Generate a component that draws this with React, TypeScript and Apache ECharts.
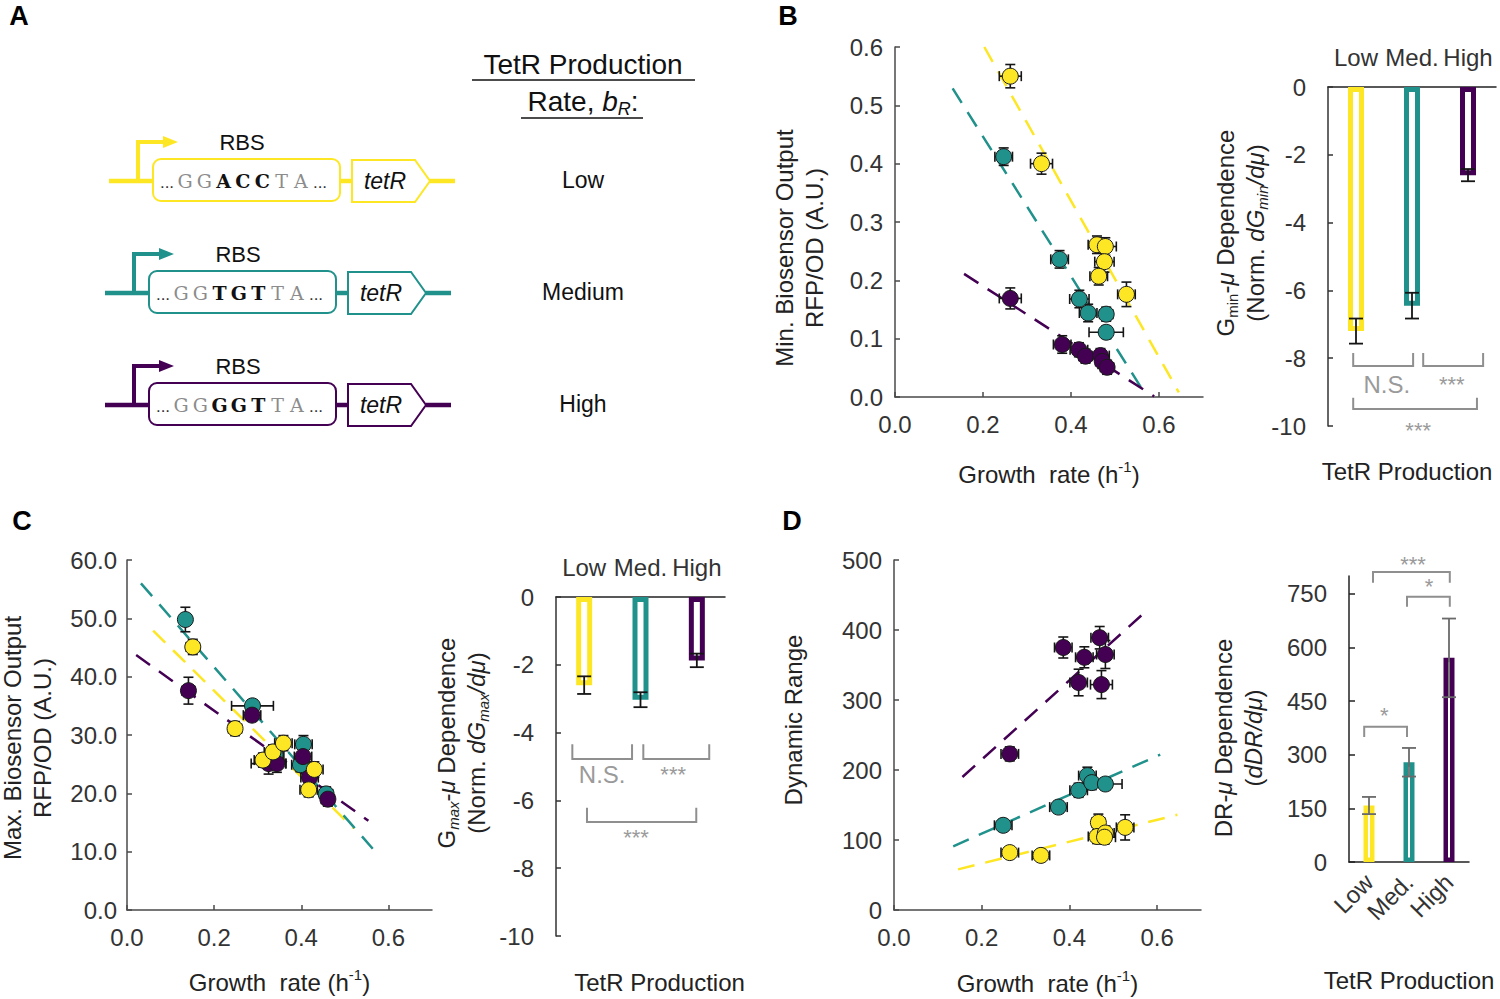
import React, { useEffect, useRef } from "react";
import * as echarts from "echarts";

const FONT = "Liberation Sans, Arial, sans-serif";
const LOW_C = "#FDE725";
const MED_C = "#21918C";
const HIGH_C = "#440154";
const LEVEL_COLORS = [LOW_C, MED_C, HIGH_C];
const AXIS_C = "#4a4a4a";
const LABEL_C = "#333333";
const SIG_C = "#8f8f8f";

// ---------- Panel A ----------
const rbsSequences = ["GGACCTA", "GGTGTTA", "GGGGTTA"];
const rateLabels = ["Low", "Medium", "High"];

// ---------- shared ----------
const tetrLevels = ["Low", "Med.", "High"];

// ---------- Panel B: min biosensor output  [growth, output, growthErr, outputErr] ----------
const minLow = [
  [0.262, 0.55, 0.025, 0.02], [0.333, 0.4, 0.025, 0.018], [0.459, 0.261, 0.02, 0.015],
  [0.478, 0.258, 0.025, 0.015], [0.476, 0.232, 0.022, 0.018], [0.463, 0.207, 0.02, 0.015],
  [0.526, 0.176, 0.02, 0.021],
];
const minMed = [
  [0.247, 0.412, 0.02, 0.015], [0.374, 0.236, 0.02, 0.015], [0.419, 0.168, 0.022, 0.015],
  [0.439, 0.144, 0.02, 0.015], [0.48, 0.142, 0.015, 0.012], [0.48, 0.111, 0.039, 0.01],
];
const minHigh = [
  [0.262, 0.169, 0.025, 0.018], [0.38, 0.09, 0.02, 0.015], [0.418, 0.081, 0.02, 0.012],
  [0.433, 0.07, 0.015, 0.012], [0.467, 0.071, 0.02, 0.012], [0.471, 0.061, 0.015, 0.012],
  [0.482, 0.051, 0.015, 0.012],
];
const minFitLow = [[0.203, 0.6], [0.645, 0.008]];
const minFitMed = [[0.131, 0.529], [0.562, 0.013]];
const minFitHigh = [[0.157, 0.211], [0.589, 0.001]];
const gminSlope = [-7.2, -6.45, -2.6];
const gminErr = [0.37, 0.38, 0.18];
// [fromPos, toPos, lineValue, tickValue, label, labelPos, labelValue]
const gminSig = [
  [-0.05, 1.02, -8.23, -7.85, "N.S.", 0.55, -8.79],
  [1.2, 2.27, -8.23, -7.85, "***", 1.71, -8.79],
  [-0.05, 2.16, -9.5, -9.17, "***", 1.11, -10.12],
];

// ---------- Panel C: max biosensor output ----------
const maxLow = [
  [0.151, 45.1, 0.015, 1.3], [0.248, 31.1, 0.015, 1.2], [0.312, 25.7, 0.02, 1.2],
  [0.335, 27.1, 0.02, 1.2], [0.359, 28.6, 0.02, 1.3], [0.43, 24.1, 0.02, 1.3],
  [0.417, 20.6, 0.02, 1.2],
];
const maxMed = [
  [0.134, 49.8, 0.012, 2.1], [0.288, 35.0, 0.048, 1.0], [0.405, 28.4, 0.02, 1.5],
  [0.398, 24.9, 0.02, 1.2], [0.457, 19.9, 0.015, 1.2], [0.34, 26.6, 0.02, 1.5],
];
const maxHigh = [
  [0.141, 37.6, 0.015, 2.3], [0.287, 33.4, 0.02, 1.0], [0.325, 25.1, 0.04, 1.8],
  [0.344, 25.1, 0.02, 1.5], [0.404, 26.3, 0.02, 1.5], [0.419, 22.7, 0.02, 1.5],
  [0.461, 19.0, 0.015, 1.2],
];
const maxFitLow = [[0.06, 47.9], [0.52, 14.0]];
const maxFitMed = [[0.032, 56.0], [0.564, 10.5]];
const maxFitHigh = [[0.021, 43.7], [0.554, 15.3]];
const gmaxSlope = [-2.6, -3.03, -1.87];
const gmaxErr = [0.26, 0.22, 0.2];
const gmaxSig = [
  [-0.21, 0.85, -4.78, -4.34, "N.S.", 0.32, -5.25],
  [1.05, 2.22, -4.78, -4.34, "***", 1.58, -5.25],
  [0.05, 1.99, -6.64, -6.22, "***", 0.92, -7.08],
];

// ---------- Panel D: dynamic range ----------
const drLow = [
  [0.264, 82, 0.02, 8], [0.335, 78, 0.02, 8], [0.466, 125, 0.015, 12],
  [0.463, 105, 0.02, 10], [0.482, 110, 0.02, 10], [0.48, 104, 0.025, 10],
  [0.527, 118, 0.02, 18],
];
const drMed = [
  [0.249, 121, 0.02, 8], [0.375, 147, 0.02, 8], [0.421, 171, 0.02, 10],
  [0.441, 192, 0.02, 12], [0.451, 182, 0.02, 10], [0.482, 180, 0.038, 8],
];
const drHigh = [
  [0.386, 375, 0.02, 15], [0.434, 361, 0.02, 15], [0.469, 389, 0.02, 16],
  [0.482, 365, 0.02, 20], [0.421, 325, 0.02, 19], [0.473, 322, 0.025, 20],
  [0.264, 223, 0.02, 10],
];
const drFitLow = [[0.146, 58], [0.646, 136]];
const drFitMed = [[0.135, 91], [0.607, 222]];
const drFitHigh = [[0.156, 190], [0.575, 427]];
const drSlope = [158, 279, 571];
const drErr = [24, 40, 110];
const drSig = [
  [0.1, 2.02, 811, 781, "***", 1.1, 831],
  [0.95, 2.02, 742, 714, "*", 1.5, 770],
  [-0.12, 0.95, 378, 350, "*", 0.38, 409],
];

// ---------- helpers ----------
const errorBarRender = (color: string, cap: number) => (params: any, api: any) => {
  const x = api.value(0), y = api.value(1), xe = api.value(2), ye = api.value(3);
  const l = api.coord([x - xe, y]);
  const r = api.coord([x + xe, y]);
  const t = api.coord([x, y + ye]);
  const b = api.coord([x, y - ye]);
  const style = { stroke: color, lineWidth: 1.6 };
  const ln = (x1: number, y1: number, x2: number, y2: number) => ({
    type: "line", shape: { x1, y1, x2, y2 }, style,
  });
  return {
    type: "group",
    children: [
      ln(l[0], l[1], r[0], r[1]),
      ln(l[0], l[1] - cap, l[0], l[1] + cap),
      ln(r[0], r[1] - cap, r[0], r[1] + cap),
      ln(t[0], t[1], b[0], b[1]),
      ln(t[0] - cap, t[1], t[0] + cap, t[1]),
      ln(b[0] - cap, b[1], b[0] + cap, b[1]),
    ],
  };
};

const groupSeries = (xi: number, yi: number, pts: number[][], color: string) => [
  {
    type: "custom",
    xAxisIndex: xi,
    yAxisIndex: yi,
    data: pts,
    renderItem: errorBarRender("#151515", 5),
    z: 3,
    silent: true,
  },
  {
    type: "scatter",
    xAxisIndex: xi,
    yAxisIndex: yi,
    data: pts.map((p) => [p[0], p[1]]),
    symbolSize: 16,
    itemStyle: { color, borderColor: "#1a1a1a", borderWidth: 1, opacity: 1 },
    z: 4,
    silent: true,
  },
];

const fitSeries = (xi: number, yi: number, pts: number[][], color: string) => ({
  type: "line",
  xAxisIndex: xi,
  yAxisIndex: yi,
  data: pts,
  symbol: "none",
  lineStyle: { color, width: 2.5, type: [17, 11] },
  z: 2,
  silent: true,
});

const barSeries = (xi: number, yi: number, vals: number[], bw: number, border: number) => ({
  type: "bar",
  xAxisIndex: xi,
  yAxisIndex: yi,
  barWidth: bw,
  data: vals.map((v, i) => ({
    value: v,
    itemStyle: { color: "#ffffff", borderColor: LEVEL_COLORS[i], borderWidth: border },
  })),
  z: 2,
  silent: true,
});

const barErrSeries = (xi: number, yi: number, vals: number[], errs: number[], color: string, cap: number) => ({
  type: "custom",
  xAxisIndex: xi,
  yAxisIndex: yi,
  data: vals.map((v, i) => [i, v]),
  renderItem: (params: any, api: any) => {
    const i = params.dataIndex;
    const t = api.coord([i, vals[i] + errs[i]]);
    const b = api.coord([i, vals[i] - errs[i]]);
    const style = { stroke: color, lineWidth: 1.8 };
    return {
      type: "group",
      children: [
        { type: "line", shape: { x1: t[0], y1: t[1], x2: b[0], y2: b[1] }, style },
        { type: "line", shape: { x1: t[0] - cap, y1: t[1], x2: t[0] + cap, y2: t[1] }, style },
        { type: "line", shape: { x1: b[0] - cap, y1: b[1], x2: b[0] + cap, y2: b[1] }, style },
      ],
    };
  },
  z: 5,
  silent: true,
});

const sigSeries = (xi: number, yi: number, sig: any[]) => ({
  type: "custom",
  xAxisIndex: xi,
  yAxisIndex: yi,
  data: sig.map((s) => [0, s[2]]),
  clip: false,
  renderItem: (params: any, api: any) => {
    const s = sig[params.dataIndex];
    const bw = api.size([1, 0])[0];
    const base = api.coord([0, s[2]]);
    const yl = base[1];
    const yt = api.coord([0, s[3]])[1];
    const ylab = api.coord([0, s[6]])[1];
    const xa = base[0] + s[0] * bw;
    const xb = base[0] + s[1] * bw;
    const xl = base[0] + s[5] * bw;
    return {
      type: "group",
      children: [
        {
          type: "polyline",
          shape: { points: [[xa, yt], [xa, yl], [xb, yl], [xb, yt]] },
          style: { stroke: SIG_C, lineWidth: 2, fill: "none" },
        },
        {
          type: "text",
          x: xl,
          y: ylab,
          style: {
            text: s[4],
            fill: "#9a9a9a",
            fontSize: s[4] === "N.S." ? 24 : 22,
            fontFamily: FONT,
            align: "center",
            verticalAlign: "middle",
          },
        },
      ],
    };
  },
  z: 6,
  silent: true,
});

const growthName = {
  name: "Growth  rate (h{sup|-1})",
  nameLocation: "middle",
  nameTextStyle: {
    fontSize: 24,
    fontFamily: FONT,
    color: "#222",
    lineHeight: 30,
    rich: { sup: { fontSize: 15, fontFamily: FONT, color: "#222", verticalAlign: "top", lineHeight: 16 } },
  },
};

const scatterX = (gridIndex: number, nameGap: number) => ({
  type: "value",
  gridIndex,
  min: 0,
  max: 0.7,
  interval: 0.2,
  ...growthName,
  nameGap,
  axisLine: { onZero: false, lineStyle: { color: AXIS_C, width: 1.5 } },
  axisTick: { inside: true, length: 5, lineStyle: { color: AXIS_C, width: 1.5 }, customValues: [0, 0.2, 0.4, 0.6] },
  axisLabel: {
    fontSize: 24, fontFamily: FONT, color: LABEL_C, margin: 15, showMaxLabel: false,
    formatter: (v: number) => v.toFixed(1),
  },
  splitLine: { show: false },
});

const scatterY = (gridIndex: number, max: number, interval: number, digits: number, margin: number) => ({
  type: "value",
  gridIndex,
  min: 0,
  max,
  interval,
  axisLine: { show: true, onZero: false, lineStyle: { color: AXIS_C, width: 1.5 } },
  axisTick: { show: true, inside: true, length: 5, lineStyle: { color: AXIS_C, width: 1.5 } },
  axisLabel: {
    fontSize: 24, fontFamily: FONT, color: LABEL_C, margin,
    formatter: (v: number) => v.toFixed(digits),
  },
  splitLine: { show: false },
});

const barTopX = (gridIndex: number) => ({
  type: "category",
  gridIndex,
  data: tetrLevels,
  position: "top",
  axisLine: { onZero: false, lineStyle: { color: "#222", width: 1.5 } },
  axisTick: { show: false },
  axisLabel: { fontSize: 24, fontFamily: FONT, color: LABEL_C, margin: 18, interval: 0 },
});

const barNameX = (gridIndex: number, nameGap: number, shift: number) => ({
  type: "category",
  gridIndex,
  data: tetrLevels,
  position: "bottom",
  name: "TetR Production",
  nameLocation: "middle",
  nameGap,
  nameTextStyle: {
    fontSize: 24, fontFamily: FONT, color: "#222",
    padding: shift >= 0 ? [0, 0, 0, shift] : [0, -shift, 0, 0],
  },
  axisLine: { show: false, onZero: false },
  axisTick: { show: false },
  axisLabel: { show: false },
});

const barNegY = (gridIndex: number) => ({
  type: "value",
  gridIndex,
  min: -10,
  max: 0,
  interval: 2,
  axisLine: { show: true, lineStyle: { color: "#333", width: 1.5 } },
  axisTick: { show: true, inside: true, length: 5, lineStyle: { color: "#333", width: 1.5 } },
  axisLabel: { fontSize: 24, fontFamily: FONT, color: LABEL_C, margin: 22 },
  splitLine: { show: false },
});

// ---------- graphic (panel A + titles) ----------
const rowY = [181, 293, 405];
const rowRectX = [153, 149, 149];

function buildGraphic() {
  const g: any[] = [];
  const txt = (x: number, y: number, text: string, extra: any = {}) => ({
    type: "text",
    x,
    y,
    silent: true,
    style: {
      text,
      fontSize: 22,
      fontFamily: FONT,
      fill: "#111",
      align: "center",
      verticalAlign: "middle",
      ...extra,
    },
  });
  // panel letters
  g.push(txt(19, 16, "A", { fontSize: 27, fontWeight: "bold", fill: "#000" }));
  g.push(txt(788, 16, "B", { fontSize: 27, fontWeight: "bold", fill: "#000" }));
  g.push(txt(22, 521, "C", { fontSize: 27, fontWeight: "bold", fill: "#000" }));
  g.push(txt(792, 521, "D", { fontSize: 27, fontWeight: "bold", fill: "#000" }));

  // panel A title
  g.push(txt(583, 64, "TetR Production", { fontSize: 28 }));
  g.push(
    txt(583, 101, "Rate, {it|b}{sub|R}:", {
      fontSize: 28,
      lineHeight: 34,
      rich: {
        it: { fontSize: 28, fontStyle: "italic", fontFamily: FONT, fill: "#111", lineHeight: 34 },
        sub: { fontSize: 18, fontStyle: "italic", fontFamily: FONT, fill: "#111", verticalAlign: "bottom", lineHeight: 22 },
      },
    })
  );
  g.push({ type: "line", silent: true, shape: { x1: 472, y1: 80, x2: 695, y2: 80 }, style: { stroke: "#111", lineWidth: 1.6 } });
  g.push({ type: "line", silent: true, shape: { x1: 521, y1: 118, x2: 643, y2: 118 }, style: { stroke: "#111", lineWidth: 1.6 } });

  rbsSequences.forEach((seq, r) => {
    const color = LEVEL_COLORS[r];
    const by = rowY[r];
    const rx = rowRectX[r];
    const thick = { stroke: color, lineWidth: 4.5 };
    g.push({ type: "line", silent: true, shape: { x1: rx - 44, y1: by, x2: rx, y2: by }, style: thick });
    g.push({ type: "line", silent: true, shape: { x1: rx + 187, y1: by, x2: rx + 199, y2: by }, style: thick });
    g.push({ type: "line", silent: true, shape: { x1: rx + 277, y1: by, x2: rx + 302, y2: by }, style: thick });
    g.push({
      type: "polyline", silent: true,
      shape: { points: [[rx - 15, by], [rx - 15, by - 39], [rx + 12, by - 39]] },
      style: { stroke: color, lineWidth: 4, fill: "none" },
    });
    g.push({
      type: "polygon", silent: true,
      shape: { points: [[rx + 10, by - 45], [rx + 25, by - 39], [rx + 10, by - 33]] },
      style: { fill: color },
    });
    g.push({
      type: "rect", silent: true,
      shape: { x: rx, y: by - 22, width: 187, height: 42, r: 8 },
      style: { fill: "#fff", stroke: color, lineWidth: 2 },
    });
    g.push({
      type: "polygon", silent: true,
      shape: {
        points: [[rx + 199, by - 21], [rx + 262, by - 21], [rx + 277, by], [rx + 262, by + 21], [rx + 199, by + 21]],
      },
      style: { fill: "#fff", stroke: color, lineWidth: 2 },
    });
    g.push(txt(rx + 89, by - 39, "RBS", { fontSize: 22 }));
    g.push(txt(rx + 232, by, "tetR", { fontSize: 23, fontStyle: "italic" }));
    g.push(txt(rx + 14, by + 1, "...", { fontSize: 17, fill: "#333" }));
    g.push(txt(rx + 167, by + 1, "...", { fontSize: 17, fill: "#333" }));
    seq.split("").forEach((ch, j) => {
      const bold = j >= 2 && j <= 4;
      g.push(
        txt(rx + 32 + j * 19.3, by, ch, {
          fontFamily: "DejaVu Serif",
          fontSize: 19,
          fontWeight: bold ? "bold" : "normal",
          fill: bold ? "#111" : "#8c8c8c",
        })
      );
    });
    g.push(txt(583, by - 1, rateLabels[r], { fontSize: 23 }));
  });

  // rotated axis titles
  const vt = (x: number, y: number, text: string, rich?: any) => ({
    type: "text",
    x,
    y,
    rotation: Math.PI / 2,
    silent: true,
    style: {
      text,
      fontSize: 24,
      fontFamily: FONT,
      fill: "#222",
      align: "center",
      verticalAlign: "middle",
      lineHeight: 30,
      rich,
    },
  });
  const richDefs = {
    it: { fontSize: 24, fontStyle: "italic", fontFamily: FONT, fill: "#222", lineHeight: 30 },
    sub: { fontSize: 15, fontFamily: FONT, fill: "#222", verticalAlign: "bottom", lineHeight: 16 },
    subit: { fontSize: 15, fontStyle: "italic", fontFamily: FONT, fill: "#222", verticalAlign: "bottom", lineHeight: 16 },
  };
  g.push(vt(799, 248, "Min. Biosensor Output\nRFP/OD (A.U.)"));
  g.push(vt(27, 738, "Max. Biosensor Output\nRFP/OD (A.U.)"));
  g.push(vt(793, 720, "Dynamic Range"));
  g.push(vt(1240, 233, "G{sub|min}-{it|μ} Dependence\n(Norm. {it|dG}{subit|min}{it|/dμ})", richDefs));
  g.push(vt(461, 743, "G{subit|max}-{it|μ} Dependence\n(Norm. {it|dG}{subit|max}{it|/dμ})", richDefs));
  g.push(vt(1238, 738, "DR-{it|μ} Dependence\n({it|dDR/dμ})", richDefs));
  return g;
}

function buildOption() {
  return {
    animation: false,
    backgroundColor: "#ffffff",
    textStyle: { fontFamily: FONT },
    grid: [
      { left: 895, top: 47, width: 308, height: 350 },
      { left: 1328, top: 87, width: 168, height: 339 },
      { left: 127, top: 560, width: 305, height: 350 },
      { left: 556, top: 597, width: 169, height: 339 },
      { left: 894, top: 560, width: 307, height: 351 },
      { left: 1349, top: 576, width: 120, height: 286 },
    ],
    xAxis: [
      scatterX(0, 62),
      barTopX(1),
      barNameX(1, 33, -10),
      scatterX(2, 57),
      barTopX(3),
      barNameX(3, 34, 38),
      scatterX(4, 58),
      {
        type: "category",
        gridIndex: 5,
        data: tetrLevels,
        position: "bottom",
        name: "TetR Production",
        nameLocation: "middle",
        nameGap: 106,
        nameTextStyle: { fontSize: 24, fontFamily: FONT, color: "#222" },
        axisLine: { onZero: false, lineStyle: { color: "#222", width: 1.5 } },
        axisTick: { show: false },
        axisLabel: { fontSize: 24, fontFamily: FONT, color: LABEL_C, rotate: 45, margin: 16, interval: 0 },
      },
    ],
    yAxis: [
      scatterY(0, 0.6, 0.1, 1, 12),
      barNegY(1),
      scatterY(2, 60, 10, 1, 10),
      barNegY(3),
      scatterY(4, 500, 100, 0, 12),
      {
        type: "value",
        gridIndex: 5,
        min: 0,
        max: 800,
        interval: 150,
        axisLine: { show: true, lineStyle: { color: "#222", width: 1.5 } },
        axisTick: {
          show: true, inside: true, length: 6, lineStyle: { color: "#222", width: 1.5 },
          customValues: [0, 150, 300, 450, 600, 750],
        },
        axisLabel: { fontSize: 24, fontFamily: FONT, color: LABEL_C, margin: 22, showMaxLabel: false },
        splitLine: { show: false },
      },
    ],
    series: [
      // Panel B scatter
      fitSeries(0, 0, minFitLow, LOW_C),
      fitSeries(0, 0, minFitMed, MED_C),
      fitSeries(0, 0, minFitHigh, HIGH_C),
      ...groupSeries(0, 0, minMed, MED_C),
      ...groupSeries(0, 0, minHigh, HIGH_C),
      ...groupSeries(0, 0, minLow, LOW_C),
      // Panel B bars
      barSeries(1, 1, gminSlope, 16, 5),
      barErrSeries(1, 1, gminSlope, gminErr, "#151515", 7),
      sigSeries(1, 1, gminSig),
      // Panel C scatter
      fitSeries(3, 2, maxFitLow, LOW_C),
      fitSeries(3, 2, maxFitMed, MED_C),
      fitSeries(3, 2, maxFitHigh, HIGH_C),
      ...groupSeries(3, 2, maxMed, MED_C),
      ...groupSeries(3, 2, maxHigh, HIGH_C),
      ...groupSeries(3, 2, maxLow, LOW_C),
      // Panel C bars
      barSeries(4, 3, gmaxSlope, 16, 5),
      barErrSeries(4, 3, gmaxSlope, gmaxErr, "#151515", 7),
      sigSeries(4, 3, gmaxSig),
      // Panel D scatter
      fitSeries(6, 4, drFitLow, LOW_C),
      fitSeries(6, 4, drFitMed, MED_C),
      fitSeries(6, 4, drFitHigh, HIGH_C),
      ...groupSeries(6, 4, drMed, MED_C),
      ...groupSeries(6, 4, drHigh, HIGH_C),
      ...groupSeries(6, 4, drLow, LOW_C),
      // Panel D bars
      barSeries(7, 5, drSlope, 11, 4.5),
      barErrSeries(7, 5, drSlope, drErr, "#6a6a6a", 7),
      sigSeries(7, 5, drSig),
    ],
    graphic: buildGraphic(),
  };
}

export default function App() {
  const ref = useRef<HTMLDivElement>(null);
  useEffect(() => {
    if (!ref.current) return;
    const chart = echarts.init(ref.current, undefined, { renderer: "svg" });
    chart.setOption(buildOption() as any);
    return () => chart.dispose();
  }, []);
  return (
    <div
      ref={ref}
      style={{ position: "absolute", left: 0, top: 0, width: 1500, height: 999, background: "#fff" }}
    />
  );
}
